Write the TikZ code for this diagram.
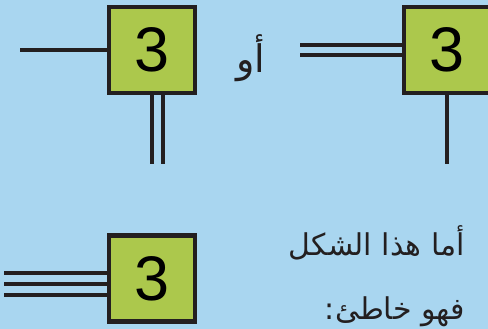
\documentclass[tikz,border=0pt]{standalone}
\usepackage{fontspec}
\setmainfont{Liberation Sans}
\newfontfamily\arabicfont[Script=Arabic]{DejaVu Sans}
\TeXXeTstate=1
\definecolor{skyblue}{RGB}{169,214,240}
\definecolor{leafgreen}{RGB}{172,200,76}
\definecolor{inkblack}{RGB}{35,31,32}

\begin{document}
\begin{tikzpicture}[
        x = 1pt, y = -1pt,
        wire/.style = {draw=inkblack, line width=4.3pt},
        digitbox/.style = {draw=inkblack, fill=leafgreen, line width=4.3pt,
            minimum size=86pt, inner sep=0pt, font=\fontsize{63}{63}\selectfont},
        arabictext/.style = {anchor=base east, inner sep=0pt, text=inkblack},
		]

        % Background
        \useasboundingbox[fill=skyblue] (0,0) rectangle (488,329);
        \clip (0,0) rectangle (488,329);

        % Left box: single wire, double wire
        \node[digitbox] (boxA) at (152,50) {3};
        \coordinate (endA) at (20,50);
        \coordinate (endAa) at (152,164);
        \coordinate (endAb) at (163,164);
        \draw[wire] (boxA.west) -- (endA);
        \draw[wire] (endAa |- boxA.south) -- (endAa);
        \draw[wire] (endAb |- boxA.south) -- (endAb);

        % Or
        \node[anchor=base, inner sep=0pt, text=inkblack] (orword) at (251,73)
            {\arabicfont\fontsize{38}{38}\selectfont\beginR أو\endR};

        % Right box: double wire, single wire
        \node[digitbox] (boxB) at (447,50) {3};
        \coordinate (endBa) at (300,45);
        \coordinate (endBb) at (300,55);
        \coordinate (endB) at (447,164);
        \draw[wire] (boxB.west |- endBa) -- (endBa);
        \draw[wire] (boxB.west |- endBb) -- (endBb);
        \draw[wire] (boxB.south) -- (endB);

        % Bottom box: triple wire
        \node[digitbox] (boxC) at (152,278.5) {3};
        \coordinate (endCa) at (4,273);
        \coordinate (endCb) at (4,284);
        \coordinate (endCc) at (4,295);
        \draw[wire] (boxC.west |- endCa) -- (endCa);
        \draw[wire] (boxC.west |- endCb) -- (endCb);
        \draw[wire] (boxC.west |- endCc) -- (endCc);

        % Caption
        \node[arabictext] (lineone) at (465,255)
            {\arabicfont\fontsize{30}{30}\selectfont\beginR أما هذا الشكل\endR};
        \node[arabictext] (linetwo) at (465,319)
            {\arabicfont\fontsize{30}{30}\selectfont\beginR فهو خاطئ:\endR};
    \end{tikzpicture}
\end{document}
